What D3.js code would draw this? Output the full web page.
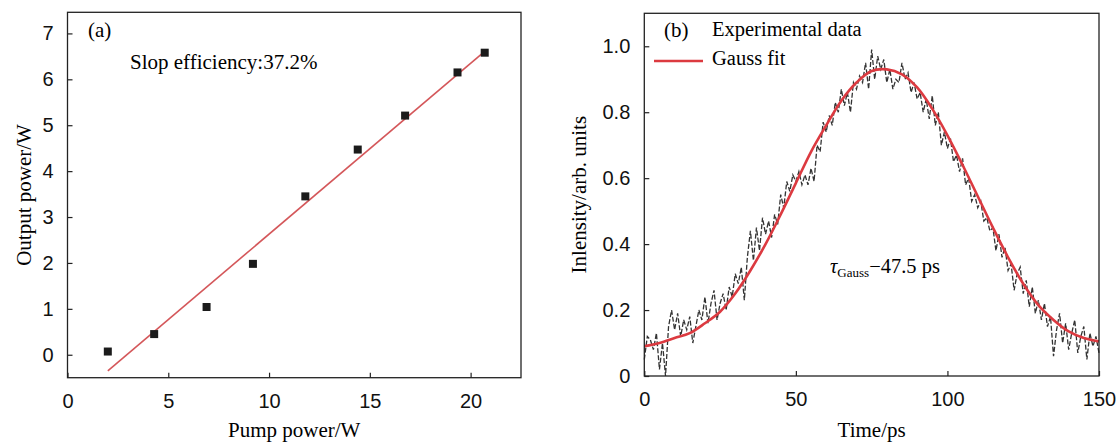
<!DOCTYPE html>
<html>
<head>
<meta charset="utf-8">
<script src="https://cdn.jsdelivr.net/npm/d3@7"></script>
<style>
  body { margin: 0; background: #fff; }
  svg { display: block; font-family: "Liberation Serif", "DejaVu Serif", serif; }
  .axis text { font-size: 20px; fill: #111; }
  .axis line { stroke: #222; stroke-width: 1.2; }
</style>
</head>
<body>
<svg id="fig" width="1120" height="443"></svg>
<script>
// panel (a): pump power vs output power
var pumpPower = [2.0, 4.3, 6.9, 9.2, 11.8, 14.4, 16.75, 19.35, 20.7];
var outputPower = [0.07, 0.45, 1.04, 1.98, 3.45, 4.47, 5.21, 6.15, 6.58];
var fitPump = [2.0, 20.7];
var fitOutput = [-0.35, 6.61];
var ticksA_x = [0, 5, 10, 15, 20];
var ticksA_y = [0, 1, 2, 3, 4, 5, 6, 7];

// panel (b): pulse profile
var expTime = d3.range(0, 151, 1);
var expIntensity = [
  0.05, 0.12, 0.11, 0.08, 0.13, 0.02, 0.10, 0.00, 0.15, 0.20, 0.14,
  0.19, 0.12, 0.17, 0.14, 0.18, 0.10, 0.15, 0.20, 0.17, 0.24,
  0.16, 0.22, 0.26, 0.17, 0.22, 0.25, 0.20, 0.27, 0.24, 0.31,
  0.28, 0.33, 0.23, 0.36, 0.44, 0.35, 0.45, 0.38, 0.48, 0.43,
  0.47, 0.42, 0.49, 0.46, 0.55, 0.51, 0.59, 0.56, 0.61, 0.59,
  0.62, 0.58, 0.61, 0.58, 0.63, 0.59, 0.70, 0.68, 0.77, 0.74,
  0.79, 0.76, 0.83, 0.80, 0.87, 0.82, 0.86, 0.80, 0.89, 0.87,
  0.91, 0.89, 0.95, 0.87, 0.99, 0.90, 0.97, 0.93, 0.96, 0.89,
  0.93, 0.87, 0.90, 0.89, 0.95, 0.90, 0.92, 0.86, 0.89, 0.84,
  0.86, 0.80, 0.84, 0.78, 0.85, 0.76, 0.80, 0.70, 0.74, 0.69,
  0.72, 0.65, 0.67, 0.62, 0.66, 0.58, 0.60, 0.53, 0.55, 0.51,
  0.53, 0.47, 0.48, 0.44, 0.45, 0.38, 0.43, 0.36, 0.39, 0.32,
  0.34, 0.26, 0.31, 0.33, 0.25, 0.29, 0.21, 0.27, 0.19, 0.23,
  0.17, 0.22, 0.15, 0.18, 0.06, 0.14, 0.19, 0.10, 0.16, 0.08,
  0.13, 0.17, 0.07, 0.12, 0.15, 0.05, 0.13, 0.09, 0.12, 0.07
];
var fitTime = d3.range(0, 151, 5);
var fitIntensity = [0.09, 0.10, 0.115, 0.13, 0.16, 0.195, 0.25, 0.32, 0.40, 0.49,
  0.585, 0.68, 0.76, 0.835, 0.89, 0.925, 0.93, 0.915, 0.875, 0.81,
  0.73, 0.64, 0.545, 0.45, 0.36, 0.28, 0.215, 0.17, 0.135, 0.115, 0.105];
var ticksB_x = [0, 50, 100, 150];
var ticksB_y = [0, 0.2, 0.4, 0.6, 0.8, 1.0];

var svg = d3.select("#fig");

function frame(g, w, h) {
  g.append("rect")
    .attr("width", w).attr("height", h)
    .attr("fill", "none").attr("stroke", "#222").attr("stroke-width", 1.3);
}

// ---- panel (a)
var A = { left: 67.5, top: 12.3, right: 521, bottom: 377.7 };
var xA = d3.scaleLinear().domain([0, 22.5]).range([0, A.right - A.left]);
var yA = d3.scaleLinear().domain([-0.5, 7.46]).range([A.bottom - A.top, 0]);
var gA = svg.append("g").attr("transform", "translate(" + A.left + "," + A.top + ")");

gA.append("g").attr("class", "axis")
  .attr("transform", "translate(0," + (A.bottom - A.top) + ")")
  .call(d3.axisBottom(xA).tickValues(ticksA_x).tickSize(-5).tickPadding(16))
  .select(".domain").remove();
gA.append("g").attr("class", "axis")
  .call(d3.axisLeft(yA).tickValues(ticksA_y).tickSize(-5).tickPadding(14))
  .select(".domain").remove();
frame(gA, A.right - A.left, A.bottom - A.top);

gA.append("path")
  .datum(d3.zip(fitPump, fitOutput))
  .attr("fill", "none").attr("stroke", "#d4575a").attr("stroke-width", 1.6)
  .attr("d", d3.line().x(function(d) { return xA(d[0]); }).y(function(d) { return yA(d[1]); }));

gA.selectAll("rect.pt")
  .data(d3.zip(pumpPower, outputPower))
  .enter().append("rect")
  .attr("class", "pt")
  .attr("x", function(d) { return xA(d[0]) - 4; })
  .attr("y", function(d) { return yA(d[1]) - 4; })
  .attr("width", 8).attr("height", 8)
  .attr("fill", "#1b1b1b");

svg.append("text").attr("x", 88).attr("y", 37).attr("font-size", 21).text("(a)");
svg.append("text").attr("x", 130).attr("y", 69).attr("font-size", 21).text("Slop efficiency:37.2%");
svg.append("text")
  .attr("transform", "translate(31," + ((A.top + A.bottom) / 2) + ") rotate(-90)")
  .attr("text-anchor", "middle").attr("font-size", 21).text("Output power/W");
svg.append("text")
  .attr("x", (A.left + A.right) / 2).attr("y", 437)
  .attr("text-anchor", "middle").attr("font-size", 21).text("Pump power/W");

// ---- panel (b)
var B = { left: 644.3, top: 13.3, right: 1099, bottom: 376 };
var xB = d3.scaleLinear().domain([0, 150]).range([0, B.right - B.left]);
var yB = d3.scaleLinear().domain([0, 1.1]).range([B.bottom - B.top, 0]);
var gB = svg.append("g").attr("transform", "translate(" + B.left + "," + B.top + ")");

gB.append("g").attr("class", "axis")
  .attr("transform", "translate(0," + (B.bottom - B.top) + ")")
  .call(d3.axisBottom(xB).tickValues(ticksB_x).tickSize(-5).tickPadding(16))
  .select(".domain").remove();
gB.append("g").attr("class", "axis")
  .call(d3.axisLeft(yB).tickValues(ticksB_y).tickSize(-5).tickPadding(14)
    .tickFormat(function(d) { return d === 0 ? "0" : d3.format(".1f")(d); }))
  .select(".domain").remove();

gB.append("path")
  .datum(d3.zip(expTime, expIntensity))
  .attr("fill", "none").attr("stroke", "#333").attr("stroke-width", 1.3)
  .attr("stroke-dasharray", "5,2")
  .attr("d", d3.line().x(function(d) { return xB(d[0]); }).y(function(d) { return yB(d[1]); }));

gB.append("path")
  .datum(d3.zip(fitTime, fitIntensity))
  .attr("fill", "none").attr("stroke", "#dc3a40").attr("stroke-width", 2.6)
  .attr("d", d3.line().curve(d3.curveCatmullRom)
    .x(function(d) { return xB(d[0]); }).y(function(d) { return yB(d[1]); }));
frame(gB, B.right - B.left, B.bottom - B.top);

svg.append("text").attr("x", 664).attr("y", 37).attr("font-size", 21).text("(b)");
svg.append("text").attr("x", 712).attr("y", 36).attr("font-size", 20.5).text("Experimental data");
svg.append("line").attr("x1", 654).attr("x2", 703).attr("y1", 61).attr("y2", 61)
  .attr("stroke", "#dc3a40").attr("stroke-width", 2.6);
svg.append("text").attr("x", 712).attr("y", 65).attr("font-size", 20.5).text("Gauss fit");

var tau = svg.append("text").attr("x", 830).attr("y", 273).attr("font-size", 20.5);
tau.append("tspan").attr("font-style", "italic").text("τ");
tau.append("tspan").attr("font-size", 13).attr("dy", 4).text("Gauss");
tau.append("tspan").attr("dy", -4).text("\u221247.5 ps");

svg.append("text")
  .attr("transform", "translate(586," + ((B.top + B.bottom) / 2) + ") rotate(-90)")
  .attr("text-anchor", "middle").attr("font-size", 21).text("Inlensity/arb. units");
svg.append("text")
  .attr("x", (B.left + B.right) / 2).attr("y", 437)
  .attr("text-anchor", "middle").attr("font-size", 21).text("Time/ps");
</script>
</body>
</html>
